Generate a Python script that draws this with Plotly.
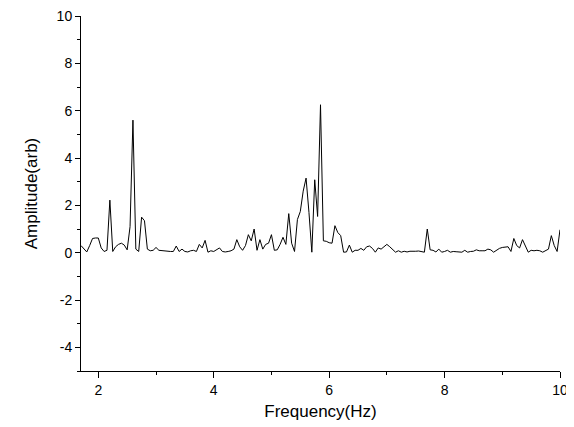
import numpy as np
import plotly.graph_objects as go

# Frequency bins (Hz)
freq_start = 1.7
freq_step = 0.05
# Amplitude (arb)
amplitude = [
    0.30, 0.15, 0.03, 0.30, 0.60, 0.62, 0.62, 0.20, 0.05, 0.10,   # 1.70-2.15
    2.22, 0.05, 0.25, 0.35, 0.40, 0.32, 0.12, 1.10, 5.60, 0.15,   # 2.20-2.65
    0.05, 1.50, 1.35, 0.15, 0.08, 0.10, 0.22, 0.10, 0.08, 0.08,   # 2.70-3.15
    0.05, 0.05, 0.05, 0.28, 0.05, 0.15, 0.05, 0.03, 0.08, 0.10,   # 3.20-3.65
    0.05, 0.35, 0.20, 0.52, 0.02, 0.08, 0.05, 0.12, 0.20, 0.05,   # 3.70-4.15
    0.03, 0.05, 0.08, 0.15, 0.55, 0.25, 0.10, 0.30, 0.76, 0.50,   # 4.20-4.65
    1.00, 0.10, 0.55, 0.15, 0.35, 0.40, 0.76, 0.10, 0.12, 0.35,   # 4.70-5.15
    0.65, 0.35, 1.65, 0.40, 0.05, 1.40, 1.74, 2.60, 3.15, 1.70,   # 5.20-5.65
    0.02, 3.08, 1.53, 6.25, 0.50, 0.48, 0.42, 0.40, 1.14, 0.85,   # 5.70-6.15
    0.72, 0.02, 0.03, 0.32, 0.02, 0.10, 0.10, 0.18, 0.10, 0.25,   # 6.20-6.65
    0.28, 0.18, 0.02, 0.20, 0.15, 0.25, 0.35, 0.25, 0.15, 0.02,   # 6.70-7.15
    0.08, 0.02, 0.06, 0.03, 0.06, 0.05, 0.06, 0.07, 0.03, 0.02,   # 7.20-7.65
    1.00, 0.12, 0.10, 0.03, 0.15, 0.02, 0.05, 0.10, 0.02, 0.05,   # 7.70-8.15
    0.04, 0.03, 0.02, 0.10, 0.02, 0.05, 0.06, 0.12, 0.08, 0.08,   # 8.20-8.65
    0.08, 0.15, 0.12, 0.02, 0.12, 0.18, 0.22, 0.22, 0.25, 0.05,   # 8.70-9.15
    0.60, 0.30, 0.20, 0.55, 0.25, 0.02, 0.10, 0.08, 0.10, 0.08,   # 9.20-9.65
    0.02, 0.08, 0.15, 0.72, 0.30, 0.05, 0.97,                     # 9.70-10.00
]
frequency = [round(freq_start + i * freq_step, 4) for i in range(len(amplitude))]

x_range = [1.7, 10]
y_range = [-5, 10]
x_tickvals = [2, 4, 6, 8, 10]
x_ticktext = ["2", "4", "6", "8", "10"]
y_tickvals = [-4, -2, 0, 2, 4, 6, 8, 10]
y_ticktext = ["-4", "-2", "0", "2", "4", "6", "8", "10"]

fig = go.Figure(
    go.Scatter(
        x=frequency,
        y=amplitude,
        mode="lines",
        line=dict(color="black", width=1),
        showlegend=False,
    )
)

font_family = "Liberation Sans, Arial, sans-serif"

# the page body adds an 8px offset, so the figure is sized to fit the window
fig.update_layout(
    width=566,
    height=419,
    margin=dict(l=73, r=14, t=8, b=56),
    paper_bgcolor="white",
    plot_bgcolor="white",
    font=dict(family=font_family, color="black", size=14),
)

fig.update_xaxes(
    range=x_range,
    tickmode="array",
    tickvals=x_tickvals,
    ticktext=x_ticktext,
    ticks="outside",
    ticklen=6,
    tickwidth=1,
    tickcolor="black",
    minor=dict(dtick=1, tick0=0, ticks="outside", ticklen=3, tickcolor="black"),
    showline=True,
    linecolor="black",
    linewidth=1,
    showgrid=False,
    zeroline=False,
    automargin=False,
    ticklabeloverflow="allow",
    tickfont=dict(size=14),
    title=dict(text="Frequency(Hz)", font=dict(size=17), standoff=8),
)
fig.update_yaxes(
    range=y_range,
    tickmode="array",
    tickvals=y_tickvals,
    ticktext=y_ticktext,
    ticks="outside",
    ticklen=5,
    tickwidth=1,
    tickcolor="black",
    minor=dict(dtick=1, tick0=0, ticks="outside", ticklen=3, tickcolor="black"),
    showline=True,
    linecolor="black",
    linewidth=1,
    showgrid=False,
    zeroline=False,
    automargin=False,
    ticklabeloverflow="allow",
    tickfont=dict(size=14),
    title=dict(text="Amplitude(arb)", font=dict(size=17), standoff=14),
)

fig.write_html("out.html")
